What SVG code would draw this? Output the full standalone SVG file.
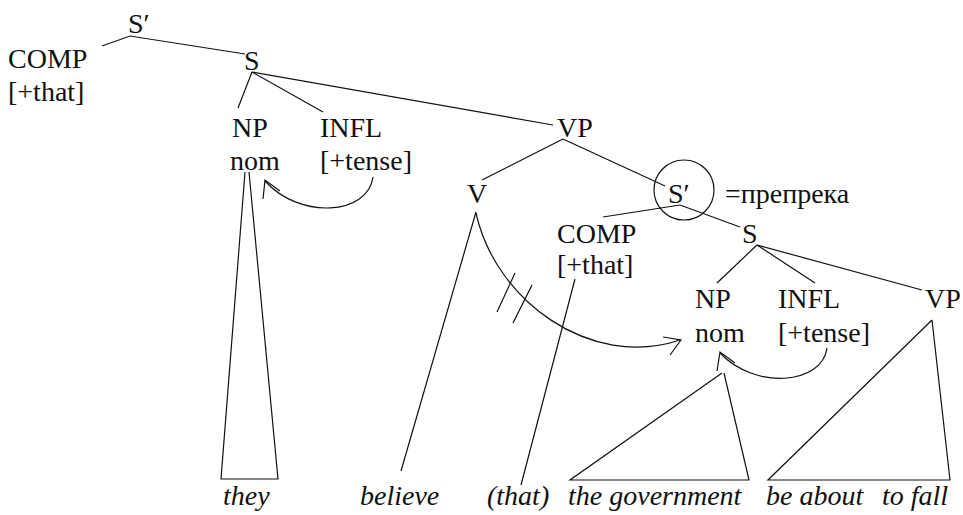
<svg xmlns="http://www.w3.org/2000/svg" width="963" height="515" viewBox="0 0 963 515">
  <style>
    .ln { fill: none; stroke: #111; stroke-width: 1.2; }
  </style>
  <rect width="963" height="515" fill="#fff"/>

  <!-- tree nodes (non-ASCII glyphs written as character references) -->
  <g id="sbar-top"><text x="128" y="33" font-family="Liberation Serif" font-size="28" fill="#111">S&#x2032;</text></g>
  <g id="comp-top">
    <text x="8" y="68" font-family="Liberation Serif" font-size="28" fill="#111">COMP</text>
    <text x="8" y="101" font-family="Liberation Serif" font-size="28" fill="#111">[+that]</text>
  </g>
  <g id="s-main"><text x="244" y="70" font-family="Liberation Serif" font-size="28" fill="#111">S</text></g>
  <g id="np-main">
    <text x="232" y="137" font-family="Liberation Serif" font-size="28" fill="#111">NP</text>
    <text x="230" y="170" font-family="Liberation Serif" font-size="28" fill="#111">nom</text>
  </g>
  <g id="infl-main">
    <text x="320" y="137" font-family="Liberation Serif" font-size="28" fill="#111">INFL</text>
    <text x="320" y="170" font-family="Liberation Serif" font-size="28" fill="#111">[+tense]</text>
  </g>
  <g id="vp-main"><text x="557" y="137" font-family="Liberation Serif" font-size="28" fill="#111">VP</text></g>
  <g id="v"><text x="467" y="203" font-family="Liberation Serif" font-size="28" fill="#111">V</text></g>
  <g id="sbar-emb">
    <circle cx="684" cy="190" r="30" class="ln"/>
    <text x="668" y="203" font-family="Liberation Serif" font-size="28" fill="#111">S&#x2032;</text>
    <text x="725" y="203" font-family="Liberation Serif" font-size="28" fill="#111">=&#x43F;&#x440;&#x435;&#x43F;&#x440;&#x435;&#x43A;&#x430;</text>
  </g>
  <g id="comp-emb">
    <text x="557" y="243" font-family="Liberation Serif" font-size="28" fill="#111">COMP</text>
    <text x="557" y="274" font-family="Liberation Serif" font-size="28" fill="#111">[+that]</text>
  </g>
  <g id="s-emb"><text x="742" y="243" font-family="Liberation Serif" font-size="28" fill="#111">S</text></g>
  <g id="np-emb">
    <text x="695" y="308" font-family="Liberation Serif" font-size="28" fill="#111">NP</text>
    <text x="695" y="342" font-family="Liberation Serif" font-size="28" fill="#111">nom</text>
  </g>
  <g id="infl-emb">
    <text x="778" y="308" font-family="Liberation Serif" font-size="28" fill="#111">INFL</text>
    <text x="778" y="342" font-family="Liberation Serif" font-size="28" fill="#111">[+tense]</text>
  </g>
  <g id="vp-emb"><text x="925" y="308" font-family="Liberation Serif" font-size="28" fill="#111">VP</text></g>

  <!-- terminal strings -->
  <g id="words">
    <text x="223" y="505" font-family="Liberation Serif" font-style="italic" font-size="28" fill="#111">they</text>
    <text x="360" y="505" font-family="Liberation Serif" font-style="italic" font-size="28" fill="#111">believe</text>
    <text x="487" y="505" font-family="Liberation Serif" font-style="italic" font-size="28" fill="#111">(that)</text>
    <text x="568" y="505" font-family="Liberation Serif" font-style="italic" font-size="28" fill="#111">the government</text>
    <text x="766" y="505" font-family="Liberation Serif" font-style="italic" font-size="28" fill="#111">be about</text>
    <text x="948" y="505" text-anchor="end" font-family="Liberation Serif" font-style="italic" font-size="28" fill="#111">to fall</text>
  </g>

  <!-- branches, triangles and case arrows -->
  <g id="connectors" class="ln">
    <polyline points="102,46 130,36 245,54"/>
    <line x1="252" y1="72" x2="238" y2="108"/>
    <line x1="252" y1="72" x2="323" y2="112"/>
    <line x1="252" y1="72" x2="553" y2="125"/>
    <line x1="563" y1="139" x2="482" y2="180"/>
    <line x1="563" y1="139" x2="665" y2="186"/>
    <line x1="680" y1="205" x2="603" y2="217"/>
    <line x1="680" y1="205" x2="740" y2="227"/>
    <line x1="757" y1="245" x2="717" y2="283"/>
    <line x1="757" y1="245" x2="815" y2="283"/>
    <line x1="757" y1="245" x2="922" y2="290"/>

    <polyline points="245,172 221,479 278,479 249,172"/>
    <line x1="476" y1="212" x2="401" y2="471"/>
    <line x1="575" y1="279" x2="521" y2="485"/>
    <polyline points="722,373 570,480 749,480 724,373"/>
    <polyline points="932,320 768,480 950,480 932,320"/>

    <path d="M373,177 C368,215 300,220 265,181"/>
    <polyline points="280,191 265,180 263,199"/>

    <path d="M827,348 C822,385 755,390 720,353"/>
    <polyline points="735,363 720,352 717,371"/>

    <path d="M476,213 C495,300 590,370 680,340"/>
    <polyline points="663,337 681,340 670,355"/>
    <line x1="515" y1="273" x2="497" y2="312"/>
    <line x1="532" y1="285" x2="513" y2="323"/>
  </g>
</svg>
